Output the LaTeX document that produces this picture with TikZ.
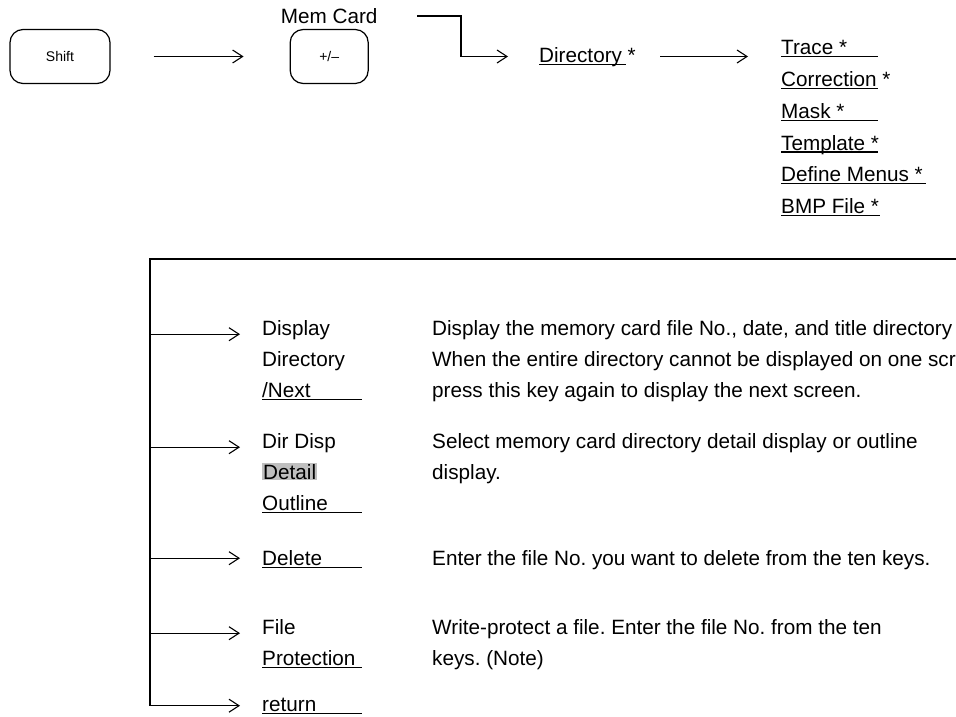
\documentclass[tikz,border=0pt]{standalone}
\usepackage{fontspec}
\setmainfont{Liberation Sans}
\usetikzlibrary{arrows.meta,positioning}
\frenchspacing
\newcommand{\ulto}[2]{\rlap{\rule[-2.5pt]{#1}{1.1pt}}#2}
\tikzset{
  keybox/.style={rectangle, rounded corners=13pt, draw=black, line width=1.2pt,
    minimum height=54pt, inner sep=0pt, font=\fontsize{14}{16}\selectfont},
  item/.style={anchor=north west, inner sep=0pt, align=left,
    font=\fontsize{20.7}{31}\selectfont, execute at begin node=\strut},
  menu/.style={item, font=\fontsize{20.7}{31.8}\selectfont},
  go/.style={-{Straight Barb[length=10pt,width=13pt]}, line width=1.1pt},
  rail/.style={line width=1.1pt},
}

\begin{document}
\begin{tikzpicture}[x=1pt, y=-1pt]
  \useasboundingbox (0,0) rectangle (956,717);
  \node[keybox, minimum width=100pt] (shift) at (60,56.5) {Shift};
  \node[keybox, minimum width=78pt, right=179pt of shift] (memkey) {+/–};
  \node[inner sep=0pt, font=\fontsize{20.7}{31}\selectfont, above=5pt of memkey] (memlbl) {Mem Card};
  \coordinate (mcout) at (417,16);
  \node[item] (dirnode) at (539,40.8) {\ulto{87pt}{Directory} *};
  \node[menu] (menu) at (781,40.2) {\ulto{97pt}{Trace *}\\ \ulto{97pt}{Correction} *\\
    \ulto{97pt}{Mask *}\\ \ulto{97pt}{Template *}\\ \ulto{145pt}{Define Menus *}\\ \ulto{99pt}{BMP File *}};
  \draw[go, shorten <=43pt, shorten >=46pt] (shift) -- (memkey);
  \draw[go] (mcout) -- ++(44,0) |- ([xshift=-31pt]dirnode.west);
  \draw[go, shorten <=24pt, shorten >=33pt] (dirnode.east) -- (dirnode.east -| menu.west);

  \coordinate (railtop) at (150,259);
  \coordinate (edge) at (956,259);
  \node[item] (lDisp) at (262,320) {Display\\Directory\\\ulto{100pt}{/Next}};
  \node[item] (lDir) at (262,433) {Dir Disp\\{\setlength\fboxsep{1pt}\colorbox{black!25}{Detail}}\\\ulto{100pt}{Outline}};
  \node[item] (lDel) at (262,544) {\ulto{100pt}{Delete}};
  \node[item] (lFile) at (262,619) {File\\\ulto{100pt}{Protection}};
  \node[item, execute at begin node={}] (lRet) at (262,690) {\ulto{100pt}{return}};
  \node[item] (dDisp) at (432,320) {Display the memory card file No., date, and title directory\\
    When the entire directory cannot be displayed on one screen,\\press this key again to display the next screen.};
  \node[item] (dDir) at (432,433) {Select memory card directory detail display or outline\\display.};
  \node[item] (dDel) at (432,544) {Enter the file No. you want to delete from the ten keys.};
  \node[item] (dFile) at (432,619) {Write-protect a file. Enter the file No. from the ten\\keys. (Note)};
  \draw[rail] (edge) -- (railtop) -- (lRet.west -| railtop);
  \foreach \n in {lDisp,lDir,lDel,lFile}
    \draw[go] ([yshift=-14.2pt]\n.north west -| railtop) -- ([xshift=-22pt,yshift=-14.2pt]\n.north west);
  \draw[go] (lRet.west -| railtop) -- ([xshift=-22pt]lRet.west);
\end{tikzpicture}
\end{document}
